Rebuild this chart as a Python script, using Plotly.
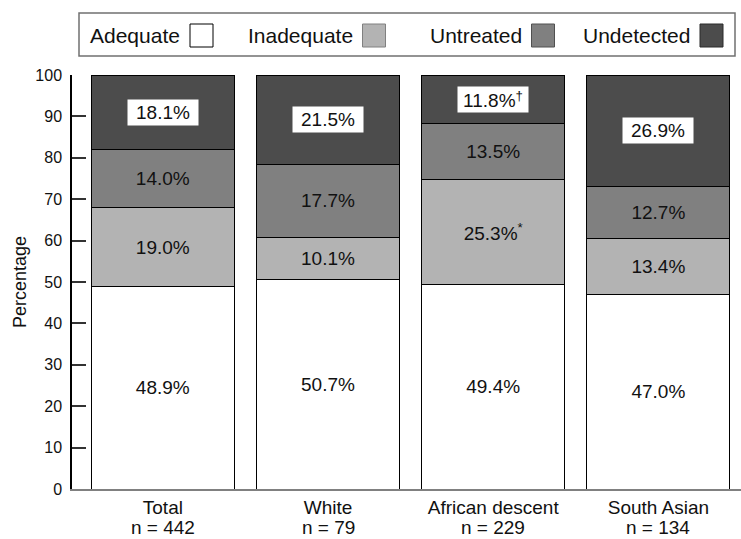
import plotly.graph_objects as go

categories = ["Total", "White", "African descent", "South Asian"]
sample_sizes = ["n = 442", "n = 79", "n = 229", "n = 134"]
series_names = ["Adequate", "Inadequate", "Untreated", "Undetected"]
adequate = [48.9, 50.7, 49.4, 47.0]
inadequate = [19.0, 10.1, 25.3, 13.4]
untreated = [14.0, 17.7, 13.5, 12.7]
undetected = [18.1, 21.5, 11.8, 26.9]
marks = {("Inadequate", 2): "*", ("Undetected", 2): "†"}
colors = ["#ffffff", "#b3b3b3", "#808080", "#4c4c4c"]
swatch_lines = ["#000000", "#808080", "#505050", "#2a2a2a"]

FONT = "Liberation Sans"
values = [adequate, inadequate, untreated, undetected]

fig = go.Figure()
for name, vals, col in zip(series_names, values, colors):
    texts = None
    if name != "Undetected":
        texts = []
        for i, v in enumerate(vals):
            sup = marks.get((name, i), "")
            texts.append(f"{v:.1f}%" + (f"<sup>{sup}</sup>" if sup else ""))
    fig.add_trace(go.Bar(
        name=name, x=categories, y=vals, width=0.865,
        marker=dict(color=col, line=dict(color="#000000", width=1)),
        text=texts, textposition="inside" if texts else "none",
        insidetextanchor="middle", textangle=0, constraintext="none",
        insidetextfont=dict(family=FONT, size=19, color="#111111"),
        showlegend=False, hoverinfo="skip",
    ))

# white-boxed labels for the top (Undetected) segment
for i in range(len(categories)):
    base = adequate[i] + inadequate[i] + untreated[i]
    sup = marks.get(("Undetected", i), "")
    t = f"{undetected[i]:.1f}%" + (f"<sup>{sup}</sup>" if sup else "")
    fig.add_annotation(x=categories[i], y=base + undetected[i] / 2, text=t,
                       showarrow=False, bgcolor="#ffffff", width=70, height=25,
                       borderpad=0, font=dict(family=FONT, size=19, color="#111111"))

# custom legend (label followed by swatch)
L, W, B, H = 72, 669, 489, 414
def px(x):
    return (x - L) / W
def py(y):
    return (B - y) / H

# sample-size line under each category label
for c, n in zip(categories, sample_sizes):
    fig.add_annotation(x=c, xref="x", yref="paper", y=py(539), yanchor="bottom",
                       text=n, showarrow=False, borderpad=0,
                       font=dict(family=FONT, size=19, color="#111111"))

fig.add_shape(type="rect", xref="paper", yref="paper", x0=px(79), x1=px(735),
              y0=py(56), y1=py(13), line=dict(color="#707070", width=1.5),
              fillcolor="#ffffff", layer="above")
swatch_left = [190, 362.5, 531.5, 700]
for name, col, lc, sx in zip(series_names, colors, swatch_lines, swatch_left):
    fig.add_shape(type="rect", xref="paper", yref="paper", x0=px(sx), x1=px(sx + 23),
                  y0=py(47), y1=py(24), line=dict(color=lc, width=1), fillcolor=col,
                  layer="above")
    fig.add_annotation(xref="paper", yref="paper", x=px(sx - 8), y=py(35.5),
                       xanchor="right", yanchor="middle", text=name, showarrow=False,
                       font=dict(family=FONT, size=21, color="#111111"))

fig.update_layout(
    barmode="stack", bargap=0.135,
    width=741, height=539,
    margin=dict(l=72, r=0, t=75, b=50, pad=0, autoexpand=False),
    plot_bgcolor="#ffffff", paper_bgcolor="#ffffff",
    font=dict(family=FONT, size=16, color="#111111"),
)
fig.update_xaxes(range=[-0.55, 3.5], showline=True, linecolor="#808080", linewidth=2,
                 ticks="", showgrid=False, zeroline=False, automargin=False,
                 tickfont=dict(family=FONT, size=19, color="#111111"))
fig.update_yaxes(range=[0, 100], tickvals=[0, 10, 20, 30, 40, 50, 60, 70, 80, 90, 100],
                 showline=True, linecolor="#000000", linewidth=1.5,
                 ticks="inside", ticklen=14, tickwidth=1.5, tickcolor="#333333",
                 ticklabelstandoff=5, automargin=False,
                 showgrid=False, zeroline=False,
                 tickfont=dict(family=FONT, size=16, color="#111111"),
                 title=dict(text="Percentage", font=dict(family=FONT, size=18, color="#111111"),
                            standoff=4))

fig.write_html("out.html", config={"displayModeBar": False})
with open("out.html", encoding="utf-8") as f:
    html = f.read()
html = html.replace("<head>", "<head><style>html,body{margin:0;padding:0;overflow:hidden;}</style>", 1)
with open("out.html", "w", encoding="utf-8") as f:
    f.write(html)
